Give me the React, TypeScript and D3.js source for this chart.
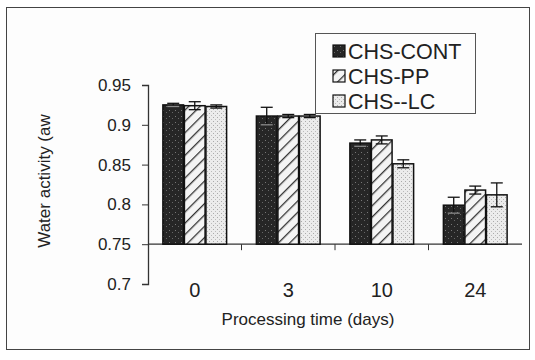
import { useEffect, useRef } from 'react';
import * as d3 from 'd3';

// Processing time groups (days)
const categories = ['0', '3', '10', '24'];
const seriesNames = ['CHS-CONT', 'CHS-PP', 'CHS--LC'];

// Water activity means
const contValues = [0.925, 0.911, 0.877, 0.799];
const ppValues = [0.924, 0.911, 0.881, 0.818];
const lcValues = [0.923, 0.911, 0.851, 0.812];

// Standard deviations
const contErrors = [0.002, 0.011, 0.004, 0.01];
const ppErrors = [0.005, 0.002, 0.005, 0.005];
const lcErrors = [0.002, 0.002, 0.005, 0.015];

const yTicks = [0.7, 0.75, 0.8, 0.85, 0.9, 0.95];

const FONT = '"Liberation Sans", Arial, Helvetica, sans-serif';

const App = () => {
  const svgRef = useRef<SVGSVGElement | null>(null);

  useEffect(() => {
    const svg = d3.select(svgRef.current);
    svg.selectAll('*').remove();

    const width = 535;
    const height = 360;
    svg.attr('width', width).attr('height', height);

    // patterns
    const defs = svg.append('defs');

    const dark = defs.append('pattern')
      .attr('id', 'pat-cont')
      .attr('patternUnits', 'userSpaceOnUse')
      .attr('width', 6)
      .attr('height', 6);
    dark.append('rect').attr('width', 6).attr('height', 6).attr('fill', '#262626');
    dark.append('rect').attr('x', 1).attr('y', 2).attr('width', 1).attr('height', 1).attr('fill', '#777');
    dark.append('rect').attr('x', 4).attr('y', 4).attr('width', 1).attr('height', 1).attr('fill', '#666');

    const hatch = defs.append('pattern')
      .attr('id', 'pat-pp')
      .attr('patternUnits', 'userSpaceOnUse')
      .attr('width', 8)
      .attr('height', 8)
      .attr('patternTransform', 'rotate(45)');
    hatch.append('rect').attr('width', 8).attr('height', 8).attr('fill', '#f4f4f4');
    hatch.append('line')
      .attr('x1', 0).attr('y1', 0).attr('x2', 0).attr('y2', 8)
      .attr('stroke', '#333').attr('stroke-width', 2.6);

    const dots = defs.append('pattern')
      .attr('id', 'pat-lc')
      .attr('patternUnits', 'userSpaceOnUse')
      .attr('width', 4)
      .attr('height', 4);
    dots.append('rect').attr('width', 4).attr('height', 4).attr('fill', '#ececec');
    dots.append('rect').attr('x', 1).attr('y', 1).attr('width', 1).attr('height', 1).attr('fill', '#aaa');
    dots.append('rect').attr('x', 3).attr('y', 3).attr('width', 1).attr('height', 1).attr('fill', '#bbb');

    const fills = ['url(#pat-cont)', 'url(#pat-pp)', 'url(#pat-lc)'];

    // outer frame
    svg.append('rect')
      .attr('x', 6.5).attr('y', 7.5)
      .attr('width', 523).attr('height', 342)
      .attr('fill', '#fdfdfd')
      .attr('stroke', '#444')
      .attr('stroke-width', 1);

    // scales
    const x0 = d3.scaleBand()
      .domain(categories)
      .range([148, 522])
      .paddingInner(0.3)
      .paddingOuter(0.15);

    const x1 = d3.scaleBand()
      .domain(seriesNames)
      .range([0, x0.bandwidth()])
      .padding(0.04);

    const y = d3.scaleLinear()
      .domain([0.7, 0.95])
      .range([284, 85]);

    const baseline = 0.75;

    // y axis
    const yAxis = svg.append('g')
      .attr('transform', 'translate(148,0)')
      .call(d3.axisLeft(y).tickValues(yTicks).tickSize(6).tickFormat(d3.format('')));
    yAxis.select('.domain').attr('stroke', '#333').attr('stroke-width', 1.3);
    yAxis.selectAll('.tick line').attr('stroke', '#333');
    yAxis.selectAll('.tick text')
      .attr('x', -17)
      .attr('font-family', FONT)
      .attr('font-size', 17)
      .attr('fill', '#222');

    // x axis at the 0.75 baseline
    const xAxis = svg.append('g')
      .attr('transform', `translate(0,${y(baseline)})`);
    xAxis.append('line')
      .attr('x1', 148).attr('x2', 522)
      .attr('stroke', '#333').attr('stroke-width', 1.3);
    const step = x0.step();
    xAxis.selectAll('.xtick')
      .data(categories.slice(1))
      .enter()
      .append('line')
      .attr('class', 'xtick')
      .attr('x1', d => (x0(d) as number) - step * 0.15)
      .attr('x2', d => (x0(d) as number) - step * 0.15)
      .attr('y1', 0).attr('y2', 6)
      .attr('stroke', '#333');

    // category labels
    svg.selectAll('.xlabel')
      .data(categories)
      .enter()
      .append('text')
      .attr('class', 'xlabel')
      .attr('x', d => (x0(d) as number) + x0.bandwidth() / 2)
      .attr('y', 297)
      .attr('text-anchor', 'middle')
      .attr('font-family', FONT)
      .attr('font-size', 20)
      .attr('fill', '#222')
      .text(d => d);

    // axis titles
    svg.append('text')
      .attr('x', 308)
      .attr('y', 325)
      .attr('text-anchor', 'middle')
      .attr('font-family', FONT)
      .attr('font-size', 17)
      .attr('fill', '#222')
      .text('Processing time (days)');

    svg.append('text')
      .attr('transform', 'translate(50,181) rotate(-90)')
      .attr('text-anchor', 'middle')
      .attr('font-family', FONT)
      .attr('font-size', 17)
      .attr('fill', '#222')
      .text('Water activity (aw');

    // bars
    const values = [contValues, ppValues, lcValues];
    const errors = [contErrors, ppErrors, lcErrors];
    const rows = categories.flatMap((c, i) =>
      seriesNames.map((s, j) => ({ c, s, j, v: values[j][i], e: errors[j][i] }))
    );

    const bars = svg.append('g');
    bars.selectAll('rect')
      .data(rows)
      .enter()
      .append('rect')
      .attr('x', d => (x0(d.c) as number) + (x1(d.s) as number))
      .attr('y', d => y(d.v))
      .attr('width', x1.bandwidth())
      .attr('height', d => y(baseline) - y(d.v))
      .attr('fill', d => fills[d.j])
      .attr('stroke', '#111')
      .attr('stroke-width', 1.5);

    // error bars
    const err = svg.append('g').attr('stroke', '#111').attr('stroke-width', 1.3);
    rows.forEach(d => {
      const cx = (x0(d.c) as number) + (x1(d.s) as number) + x1.bandwidth() / 2;
      const top = y(d.v + d.e);
      const bot = y(d.v - d.e);
      err.append('line').attr('x1', cx).attr('x2', cx).attr('y1', top).attr('y2', bot);
      err.append('line').attr('x1', cx - 6).attr('x2', cx + 6).attr('y1', top).attr('y2', top);
      err.append('line').attr('x1', cx - 6).attr('x2', cx + 6).attr('y1', bot).attr('y2', bot)
        .attr('stroke', d.j === 0 ? '#888' : '#111');
    });

    // legend
    const legend = svg.append('g');
    legend.append('rect')
      .attr('x', 315.5).attr('y', 33.5)
      .attr('width', 160).attr('height', 80)
      .attr('fill', '#fdfdfd')
      .attr('stroke', '#555')
      .attr('stroke-width', 1);
    seriesNames.forEach((name, i) => {
      const cy = 51 + i * 25;
      legend.append('rect')
        .attr('x', 333).attr('y', cy - 6)
        .attr('width', 12).attr('height', 12)
        .attr('fill', fills[i])
        .attr('stroke', '#111')
        .attr('stroke-width', 1.2);
      legend.append('text')
        .attr('x', 348)
        .attr('y', cy + 8)
        .attr('font-family', FONT)
        .attr('font-size', 21.5)
        .attr('fill', '#222')
        .text(name);
    });
  }, []);

  return (
    <svg
      ref={svgRef}
      style={{ position: 'absolute', left: 0, top: 0, display: 'block' }}
    ></svg>
  );
};

export default App;
